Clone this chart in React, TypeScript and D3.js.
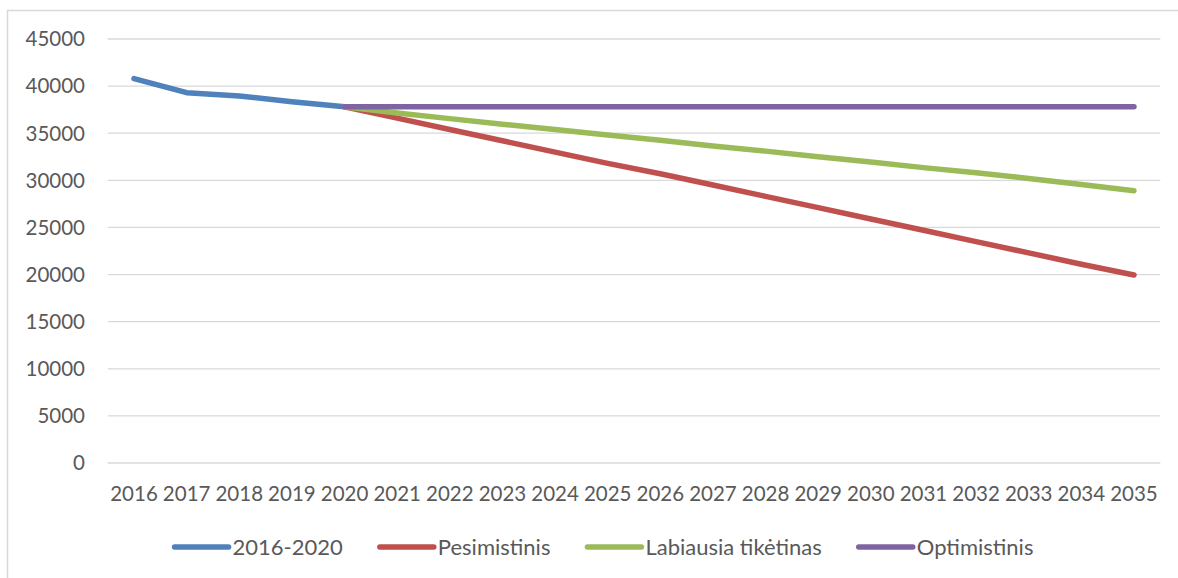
import React, { useEffect, useRef } from 'react';
import * as d3 from 'd3';

const years = ['2016', '2017', '2018', '2019', '2020', '2021', '2022', '2023', '2024', '2025',
  '2026', '2027', '2028', '2029', '2030', '2031', '2032', '2033', '2034', '2035'];

// 2016-2020 actuals
const actual = [40800, 39300, 38950, 38350, 37800];
// scenarios, 2020..2035
const pesimistinis = [37800, 36600, 35400, 34200, 33000, 31800, 30700, 29500, 28300, 27100,
  25900, 24700, 23500, 22300, 21100, 19950];
const labiausia = [37800, 37150, 36550, 35950, 35400, 34800, 34250, 33650, 33100, 32500,
  31950, 31350, 30800, 30200, 29550, 28900];
const optimistinis = [37800, 37800, 37800, 37800, 37800, 37800, 37800, 37800, 37800, 37800,
  37800, 37800, 37800, 37800, 37800, 37800];

const yTicks = [0, 5000, 10000, 15000, 20000, 25000, 30000, 35000, 40000, 45000];

const seriesNames = ['2016-2020', 'Pesimistinis', 'Labiausia tikėtinas', 'Optimistinis'];
const colors = ['#4f81bd', '#c0504d', '#9bbb59', '#8064a2'];

const W = 1178, H = 578;
const FONT = 'Lato, "Open Sans", sans-serif';

function App() {
  const ref = useRef<SVGSVGElement>(null);

  useEffect(() => {
    const svg = d3.select(ref.current);
    svg.selectAll('*').remove();

    const plot = { left: 107.7, right: 1160.3, top: 39, bottom: 463 };

    const x = d3.scalePoint<string>().domain(years).range([plot.left, plot.right]).padding(0.5);
    const y = d3.scaleLinear().domain([0, 45000]).range([plot.bottom, plot.top]);

    // chart border (runs off right / bottom)
    svg.append('rect')
      .attr('x', 7.5).attr('y', 10.5)
      .attr('width', W + 20).attr('height', H + 20)
      .attr('fill', 'none')
      .attr('stroke', '#d9d9d9')
      .attr('stroke-width', 1.5);

    // gridlines
    svg.append('g')
      .selectAll('line')
      .data(yTicks)
      .enter()
      .append('line')
      .attr('x1', plot.left).attr('x2', plot.right)
      .attr('y1', d => y(d)).attr('y2', d => y(d))
      .attr('stroke', '#d9d9d9')
      .attr('stroke-width', 1.3);

    // y labels
    svg.append('g')
      .selectAll('text')
      .data(yTicks)
      .enter()
      .append('text')
      .attr('x', 85)
      .attr('y', d => y(d))
      .attr('dy', '0.36em')
      .attr('text-anchor', 'end')
      .style('font-family', FONT)
      .style('font-size', '20.5px')
      .style('fill', '#595959')
      .text(d => d);

    // x labels
    svg.append('g')
      .selectAll('text')
      .data(years)
      .enter()
      .append('text')
      .attr('x', d => x(d) as number)
      .attr('y', 501)
      .attr('text-anchor', 'middle')
      .style('font-family', FONT)
      .style('font-size', '20.5px')
      .style('fill', '#595959')
      .text(d => d);

    const series = [
      { years: years.slice(0, 5), values: actual },
      { years: years.slice(4), values: pesimistinis },
      { years: years.slice(4), values: labiausia },
      { years: years.slice(4), values: optimistinis }
    ];

    const line = d3.line<[string, number]>()
      .x(d => x(d[0]) as number)
      .y(d => y(d[1]));

    series.forEach((s, i) => {
      const pts: [string, number][] = s.years.map((yr, j) => [yr, s.values[j]]);
      svg.append('path')
        .attr('d', line(pts))
        .attr('fill', 'none')
        .attr('stroke', colors[i])
        .attr('stroke-width', 5.5)
        .attr('stroke-linecap', 'round')
        .attr('stroke-linejoin', 'round');
    });

    // legend, centred
    const legend = svg.append('g');
    const items = legend.selectAll('g')
      .data(seriesNames)
      .enter()
      .append('g');
    items.append('line')
      .attr('x1', 0).attr('x2', 54)
      .attr('y1', 547).attr('y2', 547)
      .attr('stroke', (d, i) => colors[i])
      .attr('stroke-width', 5.5)
      .attr('stroke-linecap', 'round');
    items.append('text')
      .attr('x', 58)
      .attr('y', 547)
      .attr('dy', '0.36em')
      .style('font-family', FONT)
      .style('font-size', '22px')
      .style('fill', '#595959')
      .text(d => d);

    const widths: number[] = [];
    items.select('text').each(function () {
      widths.push(58 + (this as SVGTextElement).getComputedTextLength());
    });
    const gap = 37;
    const total = d3.sum(widths) + gap * (widths.length - 1);
    let cx = 604 - total / 2;
    items.each(function (d, i) {
      d3.select(this).attr('transform', `translate(${cx},0)`);
      cx += widths[i] + gap;
    });
  }, []);

  return (
    <svg ref={ref} width={W} height={H}
      style={{ position: 'absolute', left: 0, top: 0, background: '#fff' }} />
  );
}

export default App;
